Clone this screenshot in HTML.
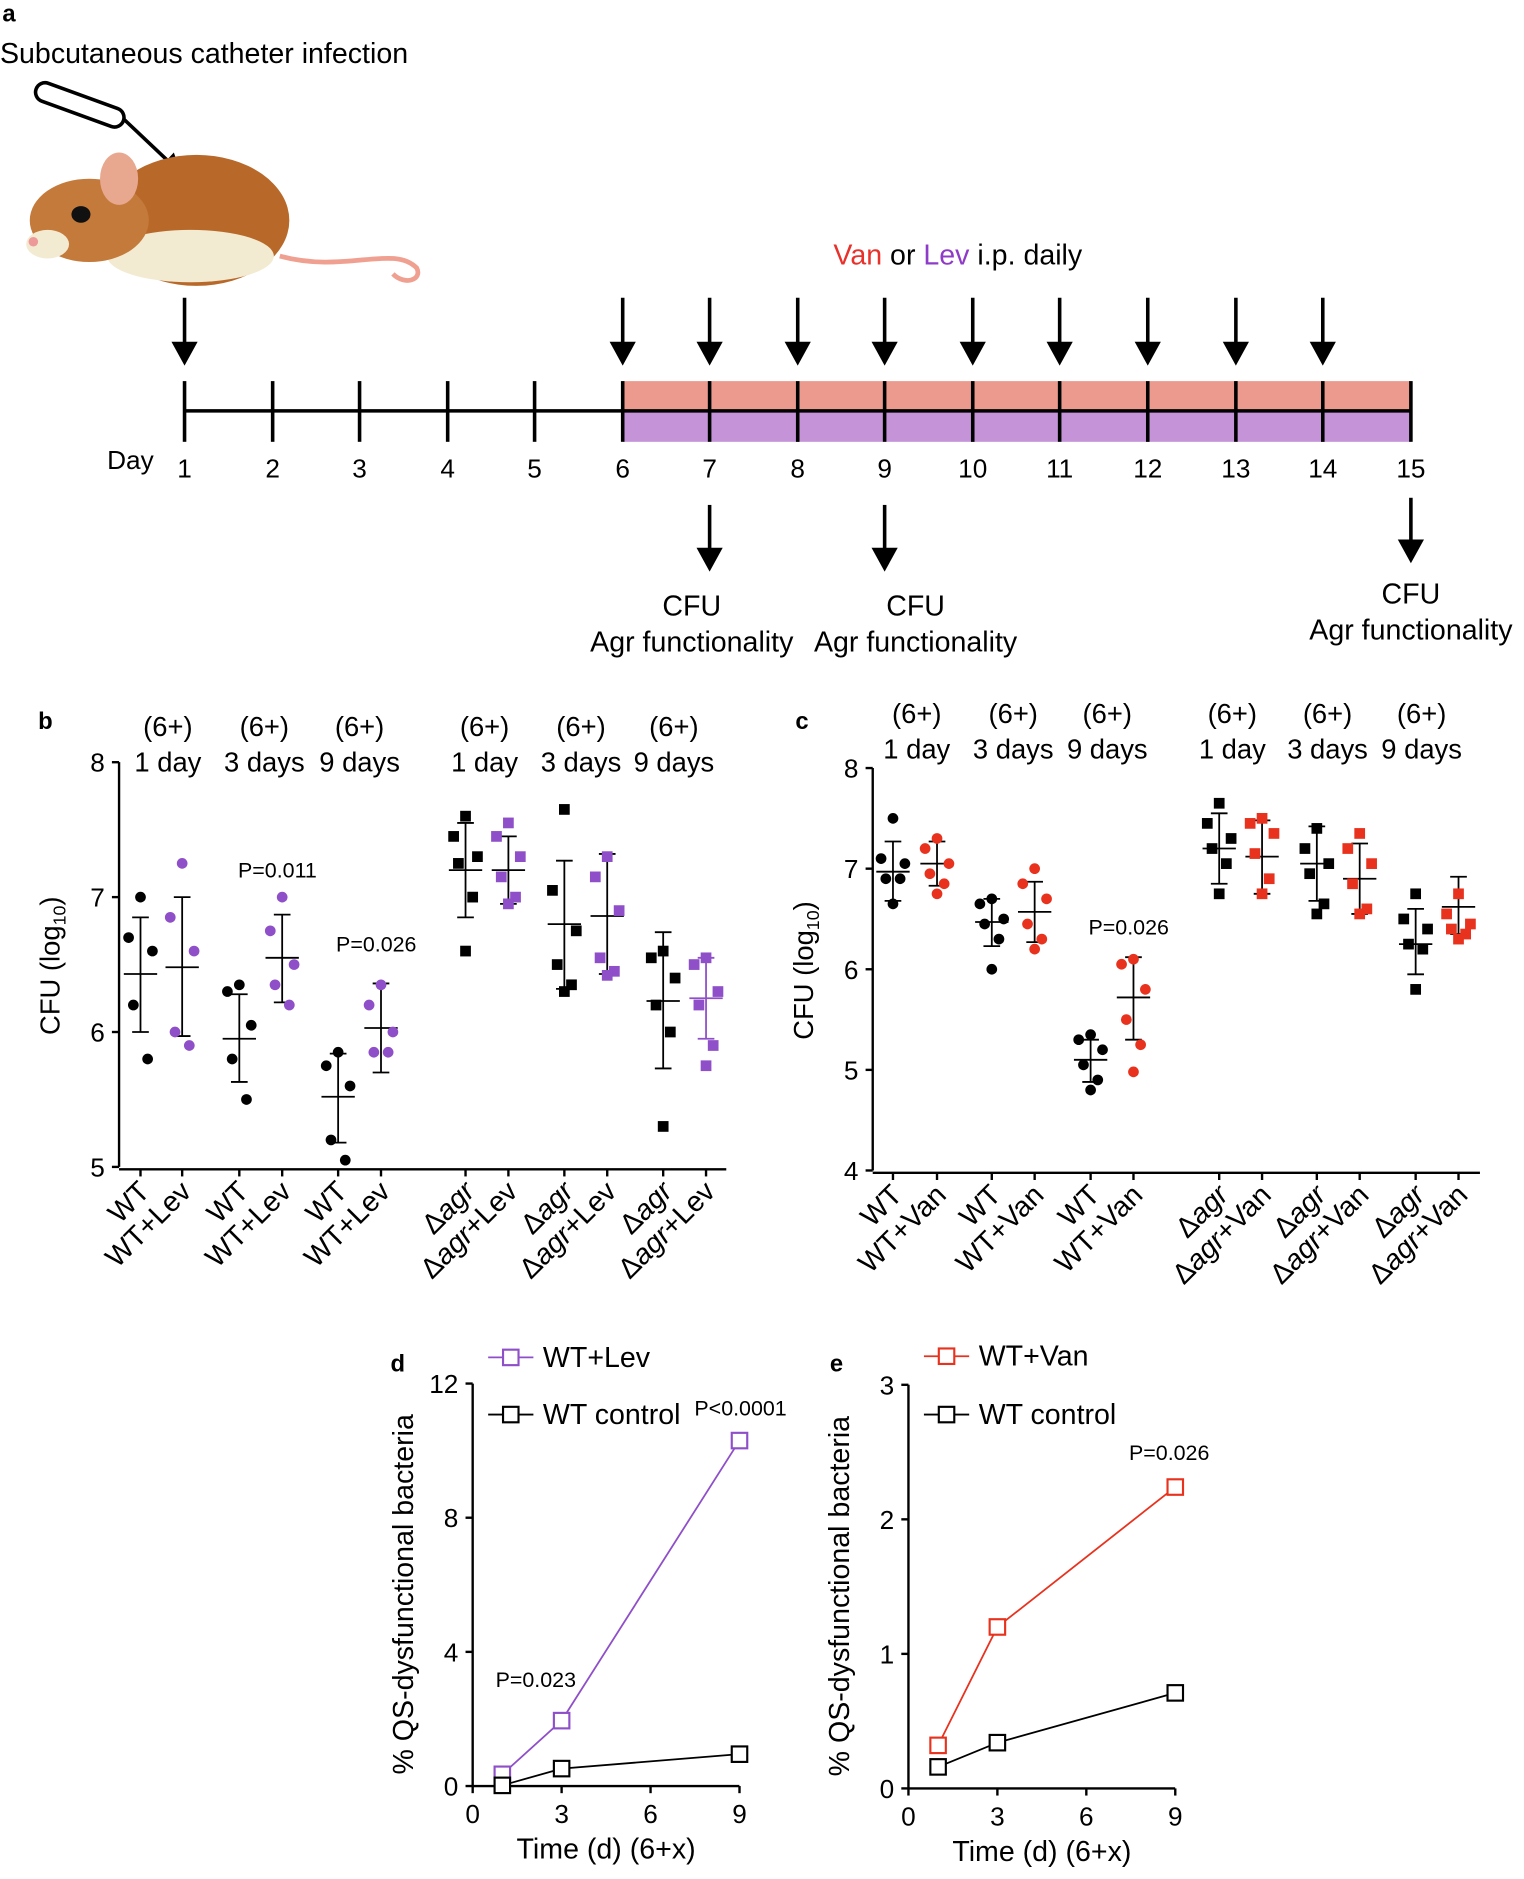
<!DOCTYPE html>
<html><head><meta charset="utf-8">
<style>
html,body{margin:0;padding:0;background:#fff}
svg{display:block;font-family:"Liberation Sans",Arial,sans-serif}
</style></head>
<body>
<svg id="s" width="1524" height="1879" viewBox="0 0 1280 1578" xmlns="http://www.w3.org/2000/svg">
<text x="2" y="18" font-size="20" font-weight="bold">a</text>
<text x="0" y="53" font-size="24">Subcutaneous catheter infection</text>
<rect x="28" y="80" width="78" height="16" rx="8" transform="rotate(20 67 88)" fill="#fff" stroke="#000" stroke-width="3"/>
<line x1="104" y1="100" x2="140" y2="134" stroke="#000" stroke-width="3"/>
<path d="M153,148 L133,142 L146,128 Z" fill="#000"/>
<path d="M235,215 C290,230 330,205 350,225 C355,235 340,240 330,230" fill="none" stroke="#f0a090" stroke-width="4"/>
<ellipse cx="165" cy="185" rx="78" ry="55" fill="#b8692a"/>
<ellipse cx="160" cy="215" rx="70" ry="22" fill="#f3ead2"/>
<ellipse cx="75" cy="185" rx="50" ry="35" fill="#c47a3a"/>
<ellipse cx="40" cy="205" rx="18" ry="12" fill="#f3ead2"/>
<ellipse cx="100" cy="150" rx="16" ry="22" fill="#e8a890"/>
<ellipse cx="68" cy="180" rx="8" ry="7" fill="#111"/>
<circle cx="28" cy="203" r="4" fill="#e99"/>
<rect x="523" y="320" width="662" height="25" fill="#ec9a8e"/>
<rect x="523" y="345" width="662" height="26" fill="#c493d8"/>
<line x1="155" y1="345" x2="1185" y2="345" stroke="#000" stroke-width="3"/>
<g stroke="#000" stroke-width="3" id="ticks"></g>
<g font-size="22" text-anchor="middle" id="days"></g>
<text x="90" y="394" font-size="22">Day</text>
<text x="700" y="222" font-size="24"><tspan fill="#e8312a">Van</tspan> or <tspan fill="#8e3cc8">Lev</tspan> i.p. daily</text>
<g stroke="#000" stroke-width="3" id="arrows"></g>
<g font-size="24" text-anchor="middle">
<text x="581" y="517">CFU</text><text x="581" y="547">Agr functionality</text>
<text x="769" y="517">CFU</text><text x="769" y="547">Agr functionality</text>
<text x="1185" y="507">CFU</text><text x="1185" y="537">Agr functionality</text>
</g>
<text x="32" y="612" font-size="20" font-weight="bold">b</text>
<text x="668" y="612" font-size="20" font-weight="bold">c</text>
<g id="plots"></g>
<text x="328" y="1152" font-size="20" font-weight="bold">d</text>
<text x="697" y="1152" font-size="20" font-weight="bold">e</text>
</svg>
<script>
const S=document.getElementById('s'),NS='http://www.w3.org/2000/svg';
function el(t,a,p,txt){const e=document.createElementNS(NS,t);for(const k in a)e.setAttribute(k,a[k]);if(txt!==undefined)e.textContent=txt;(p||S).appendChild(e);return e;}
const X=[155,229,302,376,449,523,596,670,743,817,890,964,1038,1111,1185];
const tk=document.getElementById('ticks'),dy=document.getElementById('days'),ar=document.getElementById('arrows');
X.forEach((x,i)=>{el('line',{x1:x,y1:320,x2:x,y2:371},tk);el('text',{x:x,y:401},dy,String(i+1));});
function arrow(x,y1,y2){el('line',{x1:x,y1:y1,x2:x,y2:y2-14},ar);el('path',{d:`M${x-11},${y2-20} L${x+11},${y2-20} L${x},${y2} Z`,fill:'#000',stroke:'none'},ar);}
[155,523,596,670,743,817,890,964,1038,1111].forEach(x=>arrow(x,250,307));
arrow(596,424,480);arrow(743,424,480);arrow(1185,418,473);
const P=document.getElementById('plots');
function scatter(o){
 el('line',{x1:o.ax,y1:o.y0-2,x2:o.ax,y2:o.y1,stroke:'#000','stroke-width':2},P);
 el('line',{x1:o.ax,y1:o.y0,x2:o.ax+o.w,y2:o.y0,stroke:'#000','stroke-width':2},P);
 o.ticks.forEach(v=>{const y=o.Y(v);el('line',{x1:o.ax-6,y1:y,x2:o.ax,y2:y,stroke:'#000','stroke-width':2},P);el('text',{x:o.ax-12,y:y+8,'font-size':22,'text-anchor':'end'},P,String(v));});
 el('text',{transform:`translate(${o.ax-50},${(o.y0+o.y1)/2}) rotate(-90)`,'font-size':23,'text-anchor':'middle'},P).innerHTML='CFU (log<tspan font-size="15" dy="5">10</tspan><tspan dy="-5">)</tspan>';
 o.g.forEach((g,i)=>{
  const x=g.x;el('line',{x1:x,y1:o.y0,x2:x,y2:o.y0+6,stroke:'#000','stroke-width':2},P);
  const col=g.c||'#000';const ec=g.ec||'#000';
  el('line',{x1:x,y1:o.Y(g.r[0]),x2:x,y2:o.Y(g.r[1]),stroke:ec,'stroke-width':1.5},P);
  [g.r[0],g.r[1]].forEach(v=>el('line',{x1:x-7,y1:o.Y(v),x2:x+7,y2:o.Y(v),stroke:ec,'stroke-width':1.5},P));
  el('line',{x1:x-14,y1:o.Y(g.m),x2:x+14,y2:o.Y(g.m),stroke:ec,'stroke-width':1.5},P);
  g.v.forEach((v,j)=>{const dx=[0,-10,10,-6,6,0][j%6];const cx=x+dx;
   if(o.sq[i])el('rect',{x:cx-4.5,y:o.Y(v)-4.5,width:9,height:9,fill:col},P);else el('circle',{cx:cx,cy:o.Y(v),r:4.5,fill:col},P);});
  const t=el('text',{transform:`translate(${x+9},${o.y0+20}) rotate(-45)`,'font-size':24,'text-anchor':'end'},P);
  t.innerHTML=g.lab;
 });
 o.hdr.forEach(h=>{el('text',{x:h[0],y:o.hy,'font-size':23,'text-anchor':'middle'},P,'(6+)');el('text',{x:h[0],y:o.hy+30,'font-size':23,'text-anchor':'middle'},P,h[1]);});
 o.pv.forEach(p=>el('text',{x:p[0],y:p[1],'font-size':18,'text-anchor':'middle'},P,p[2]));
}
const pu='#8e4fc8',rd='#e8321e';
const agr='<tspan>Δ</tspan><tspan font-style="italic">agr</tspan>';
function labs(xs,tr){return xs.map((x,i)=>({x:x,lab:i<6?(i%2?'WT+'+tr:'WT'):(i%2?agr+'+'+tr:agr)}));}
const bx=[118,153,201,237,284,320,391,427,474,510,557,593];
const bd=[[[7.0,6.7,6.6,6.2,5.8],6.43,[6.0,6.85]],[[7.25,6.85,6.6,6.0,5.9],6.48,[5.97,7.0]],
[[6.35,6.3,6.05,5.8,5.5],5.95,[5.63,6.28]],[[7.0,6.75,6.5,6.35,6.2],6.55,[6.22,6.87]],
[[5.85,5.75,5.6,5.2,5.05],5.52,[5.18,5.84]],[[6.35,6.2,6.0,5.85,5.85],6.03,[5.7,6.36]],
[[7.6,7.45,7.3,7.25,7.0,6.6],7.2,[6.85,7.55]],[[7.55,7.45,7.3,7.15,7.0,6.95],7.2,[6.95,7.45]],
[[7.65,7.05,6.75,6.5,6.35,6.3],6.8,[6.32,7.27]],[[7.3,7.15,6.9,6.55,6.45,6.42],6.86,[6.43,7.32]],
[[6.6,6.55,6.4,6.2,6.0,5.3],6.23,[5.73,6.74]],[[6.55,6.5,6.3,6.2,5.9,5.75],6.25,[5.95,6.55]]];
const bl=labs(bx,'Lev');
scatter({ax:100,w:510,y0:982,y1:640,Y:v=>980-(v-5)*113.3,ticks:[8,7,6,5],sq:bx.map((_,i)=>i>=6),
 g:bd.map((d,i)=>({x:bx[i],v:d[0],m:d[1],r:d[2],c:i%2?pu:'#000',ec:(i==11)?pu:'#000',lab:bl[i].lab})),
 hdr:[[141,'1 day'],[222,'3 days'],[302,'9 days'],[407,'1 day'],[488,'3 days'],[566,'9 days']],hy:618,
 pv:[[233,737,'P=0.011'],[316,799,'P=0.026']]});
const cx=[750,787,833,869,916,952,1024,1060,1106,1142,1189,1225];
const cd=[[[7.5,7.1,7.05,6.9,6.9,6.65],6.97,[6.68,7.27]],[[7.3,7.2,7.05,6.95,6.85,6.75],7.05,[6.83,7.27]],
[[6.7,6.65,6.5,6.45,6.3,6.0],6.47,[6.23,6.7]],[[7.0,6.85,6.7,6.45,6.3,6.2],6.57,[6.27,6.87]],
[[5.35,5.3,5.2,5.05,4.9,4.8],5.1,[4.88,5.3]],[[6.1,6.05,5.8,5.5,5.25,4.98],5.72,[5.3,6.12]],
[[7.65,7.45,7.3,7.2,7.05,6.75],7.2,[6.85,7.55]],[[7.5,7.45,7.35,7.15,6.9,6.75],7.12,[6.75,7.48]],
[[7.4,7.2,7.05,6.95,6.65,6.55],7.05,[6.68,7.42]],[[7.35,7.2,7.05,6.85,6.6,6.55],6.9,[6.55,7.25]],
[[6.75,6.5,6.4,6.25,6.2,5.8],6.25,[5.95,6.6]],[[6.75,6.55,6.45,6.4,6.35,6.3],6.62,[6.35,6.92]]];
const cl=labs(cx,'Van');
scatter({ax:733,w:510,y0:985,y1:645,Y:v=>983-(v-4)*84.5,ticks:[8,7,6,5,4],sq:cx.map((_,i)=>i>=6),
 g:cd.map((d,i)=>({x:cx[i],v:d[0],m:d[1],r:d[2],c:i%2?rd:'#000',lab:cl[i].lab})),
 hdr:[[770,'1 day'],[851,'3 days'],[930,'9 days'],[1035,'1 day'],[1115,'3 days'],[1194,'9 days']],hy:607,
 pv:[[948,785,'P=0.026']]});
function line(o){
 el('line',{x1:o.ax,y1:o.y0,x2:o.ax,y2:o.y1,stroke:'#000','stroke-width':2},P);
 el('line',{x1:o.ax,y1:o.y0,x2:o.x9,y2:o.y0,stroke:'#000','stroke-width':2},P);
 o.ticks.forEach(v=>{const y=o.Y(v);el('line',{x1:o.ax-6,y1:y,x2:o.ax,y2:y,stroke:'#000','stroke-width':2},P);el('text',{x:o.ax-12,y:y+8,'font-size':22,'text-anchor':'end'},P,String(v));});
 [0,3,6,9].forEach(v=>{const x=o.X(v);el('line',{x1:x,y1:o.y0,x2:x,y2:o.y0+6,stroke:'#000','stroke-width':2},P);el('text',{x:x,y:o.y0+31,'font-size':22,'text-anchor':'middle'},P,String(v));});
 el('text',{x:o.X(4.5),y:o.y0+61,'font-size':24,'text-anchor':'middle'},P,'Time (d) (6+x)');
 el('text',{transform:`translate(${o.ax-50},${(o.y0+o.y1)/2+8}) rotate(-90)`,'font-size':24,'text-anchor':'middle'},P,'% QS-dysfunctional bacteria');
 o.s.forEach(s=>{const pts=s.d.map(p=>o.X(p[0])+','+o.Y(p[1])).join(' ');
  el('polyline',{points:pts,fill:'none',stroke:s.c,'stroke-width':1.5},P);
  s.d.forEach(p=>el('rect',{x:o.X(p[0])-6.5,y:o.Y(p[1])-6.5,width:13,height:13,fill:'#fff',stroke:s.c,'stroke-width':1.8},P));});
 o.leg.forEach(l=>{el('line',{x1:l[0],y1:l[1],x2:l[0]+38,y2:l[1],stroke:l[3],'stroke-width':1.5},P);
  el('rect',{x:l[0]+12.5,y:l[1]-6.5,width:13,height:13,fill:'#fff',stroke:l[3],'stroke-width':1.8},P);
  el('text',{x:l[0]+46,y:l[1]+8,'font-size':24},P,l[2]);});
 o.pv.forEach(p=>el('text',{x:p[0],y:p[1],'font-size':18,'text-anchor':'middle'},P,p[2]));
}
line({ax:397,x9:621,y0:1500,y1:1162,X:v=>397+v*24.9,Y:v=>1500-v*28.17,ticks:[0,4,8,12],
 s:[{c:pu,d:[[1,0.35],[3,1.95],[9,10.3]]},{c:'#000',d:[[1,0.02],[3,0.52],[9,0.95]]}],
 leg:[[410,1140,'WT+Lev',pu],[410,1188,'WT control','#000']],
 pv:[[622,1189,'P<0.0001'],[450,1417,'P=0.023']]});
line({ax:763,x9:987,y0:1502,y1:1163,X:v=>763+v*24.9,Y:v=>1502-v*113,ticks:[0,1,2,3],
 s:[{c:rd,d:[[1,0.32],[3,1.2],[9,2.24]]},{c:'#000',d:[[1,0.16],[3,0.34],[9,0.71]]}],
 leg:[[776,1139,'WT+Van',rd],[776,1188,'WT control','#000']],
 pv:[[982,1226,'P=0.026']]});
</script>
</body></html>
